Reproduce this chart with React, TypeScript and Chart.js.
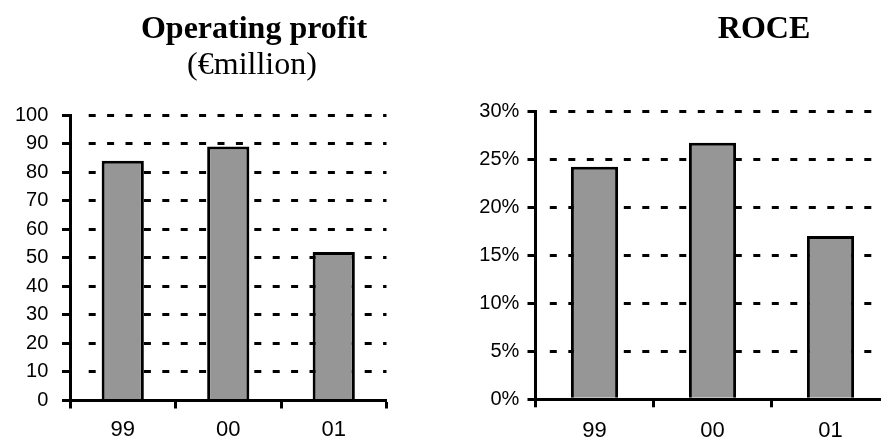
import React, { useEffect, useRef } from "react";
import { Chart, registerables } from "chart.js";

Chart.register(...registerables);

// ---- data ----
const categories = ["99", "00", "01"];
const operatingProfit = [84, 89, 52];
const roce = [24.2, 26.7, 17.0];
const profitTickMin = 0;
const profitTickMax = 100;
const profitTickStep = 10;
const roceTickMin = 0;
const roceTickMax = 30;
const roceTickStep = 5;

const FONT = "'Liberation Sans', Arial, sans-serif";

function dashPattern(lead: number, dash: number, gap: number, length: number): number[] {
  const arr = [0, lead];
  let s = lead;
  while (s < length) {
    arr.push(dash, gap);
    s += dash + gap;
  }
  return arr;
}

interface PanelCfg {
  values: number[];
  min: number;
  max: number;
  step: number;
  fmt: (v: number) => string;
  yWidth: number;
  xHeight: number;
  padTop: number;
  padRight: number;
  yPad: number;
  xPad: number;
  dash: number[];
}

function makeChart(canvas: HTMLCanvasElement, c: PanelCfg) {
  return new Chart(canvas, {
    type: "bar",
    data: {
      labels: categories,
      datasets: [
        {
          data: c.values,
          backgroundColor: "#969696",
          borderColor: "#000000",
          borderWidth: 3,
          barPercentage: 0.4,
          categoryPercentage: 1,
        },
      ],
    },
    options: {
      animation: false,
      responsive: false,
      maintainAspectRatio: false,
      layout: { padding: { left: 0, right: c.padRight, top: c.padTop, bottom: 0 } },
      plugins: { legend: { display: false }, tooltip: { enabled: false }, title: { display: false } },
      scales: {
        x: {
          offset: true,
          grid: {
            offset: true,
            drawOnChartArea: false,
            drawTicks: true,
            tickLength: 8,
            tickWidth: 3,
            tickColor: "#000",
          },
          border: { display: true, color: "#000", width: 3 },
          ticks: { color: "#000", font: { family: FONT, size: 22 }, padding: c.xPad, maxRotation: 0 },
          afterFit: (scale: any) => {
            scale.height = c.xHeight;
          },
        },
        y: {
          min: c.min,
          max: c.max,
          grid: {
            color: "#000",
            lineWidth: 3,
            drawTicks: true,
            tickLength: 8,
            tickWidth: 3,
            tickColor: "#000",
          },
          border: { display: true, color: "#000", width: 3, dash: c.dash },
          ticks: {
            stepSize: c.step,
            color: "#000",
            font: { family: FONT, size: 20 },
            padding: c.yPad,
            callback: (v: any) => c.fmt(Number(v)),
          },
          afterFit: (scale: any) => {
            scale.width = c.yWidth;
          },
        },
      },
    },
  } as any);
}

function Panel(props: { cfg: PanelCfg; left: number; width: number }) {
  const ref = useRef<HTMLCanvasElement>(null);
  useEffect(() => {
    if (!ref.current) return;
    const ch = makeChart(ref.current, props.cfg);
    return () => ch.destroy();
  }, []);
  return (
    <canvas
      ref={ref}
      width={props.width}
      height={440}
      style={{ position: "absolute", left: props.left, top: 0, width: props.width, height: 440 }}
    />
  );
}

const titleStyle: React.CSSProperties = {
  position: "absolute",
  width: 400,
  textAlign: "center",
  fontFamily: "'Liberation Serif', 'Times New Roman', serif",
  fontSize: 32,
  lineHeight: "36px",
  color: "#000",
  whiteSpace: "nowrap",
};

export default function App() {
  const leftCfg: PanelCfg = {
    values: operatingProfit,
    min: profitTickMin,
    max: profitTickMax,
    step: profitTickStep,
    fmt: (v) => String(v),
    yWidth: 70,
    xHeight: 39.5,
    padTop: 115,
    padRight: 13.5,
    yPad: 13.7,
    xPad: 8.3,
    dash: dashPattern(16.7, 7, 11.4, 340),
  };
  const rightCfg: PanelCfg = {
    values: roce,
    min: roceTickMin,
    max: roceTickMax,
    step: roceTickStep,
    fmt: (v) => v + "%",
    yWidth: 75.5,
    xHeight: 40.7,
    padTop: 111,
    padRight: 10.5,
    yPad: 8.2,
    xPad: 10,
    dash: dashPattern(12.8, 7, 11.5, 370),
  };
  return (
    <div
      style={{
        position: "fixed",
        left: 0,
        top: 0,
        width: 881,
        height: 440,
        overflow: "hidden",
        background: "#fff",
      }}
    >
      <Panel cfg={leftCfg} left={0} width={400} />
      <Panel cfg={rightCfg} left={460} width={440} />
      <div style={{ ...titleStyle, left: 254 - 200, top: 8.5, fontWeight: "bold" }}>Operating profit</div>
      <div style={{ ...titleStyle, left: 252 - 200, top: 44.5 }}>(€million)</div>
      <div style={{ ...titleStyle, left: 764 - 200, top: 8.5, fontWeight: "bold" }}>ROCE</div>
    </div>
  );
}
